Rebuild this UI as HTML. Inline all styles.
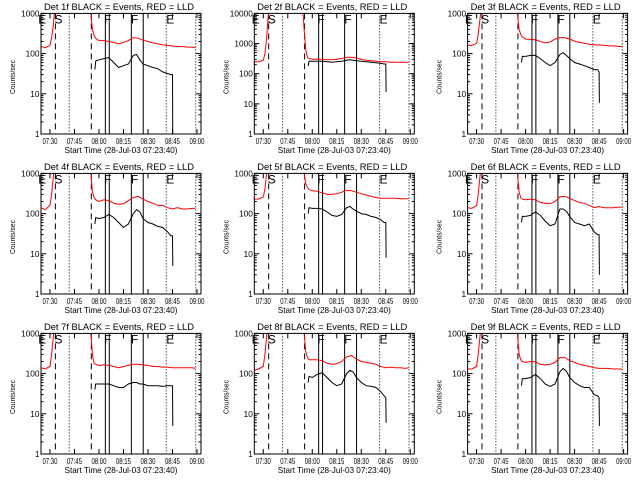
<!DOCTYPE html>
<html><head><meta charset="utf-8">
<style>
html,body{margin:0;padding:0;background:#fff;}
svg{display:block;font-family:"Liberation Sans",sans-serif;}
</style></head>
<body>
<svg id="chart" width="640" height="480" viewBox="0 0 640 480" xmlns="http://www.w3.org/2000/svg">
<rect x="0" y="0" width="640" height="480" fill="#fff"/>
</svg>
<script>
// shared time samples (minutes after 07:00)
const redTimes = [24.5,27,30,31,32,33,34,54,55,56,57,58,60,63,66,69,72,75,78,81,84,87,90,93,96,99,102,105,108,111,114,117,119];
const blackTimes = [57.5,58,60,63,66,69,72,75,78,81,83,85,87,90,93,96,99,102,104,105,105.2];
const xTickLabels = ["07:30","07:45","08:00","08:15","08:30","08:45","09:00"];
const xTickMinutes = [30,45,60,75,90,105,120];
const detNames = ["1f","2f","3f","4f","5f","6f","7f","8f","9f"];
const yMaxes = [1000,10000,1000,1000,1000,1000,1000,1000,1000];
const dashedLines = [33.3,55.3];
const dottedLines = [41.8,101.2,119.2];
const solidLines = [63.9,66.3,79.8,87.1];
const markerLabels = ["E","S","F","F","E"];
const markerMinutes = [25.3,35.2,65.4,81.8,103.6];

const red1 = [150,140,160,250,500,1500,3000,3000,1000,400,280,240,210,210,200,190,175,190,210,250,240,215,200,185,175,165,160,155,150,150,145,145,140];
const red2 = [250,250,280,450,1500,8000,20000,20000,3000,600,350,320,300,300,300,290,290,300,320,350,350,330,300,280,270,260,250,250,240,240,240,240,240];
const red3 = [160,160,180,300,700,1500,3000,3000,1000,400,300,260,230,225,220,200,185,195,230,250,250,230,205,190,180,170,165,165,160,155,155,150,150];
const red4 = [140,125,160,300,800,2000,3000,3000,1000,350,250,220,200,220,210,180,170,175,210,250,270,230,200,180,160,160,140,130,140,130,130,135,135];
const red5 = [230,230,260,400,1000,3000,5000,5000,1000,550,450,400,370,360,330,300,300,310,340,380,370,340,310,290,270,250,240,240,240,240,235,235,235];
const red6 = [140,135,160,300,800,2000,3000,3000,1000,350,250,230,220,230,220,190,180,175,200,260,270,240,210,190,180,160,140,150,140,140,140,145,145];
const red7 = [140,130,150,300,800,2000,3000,3000,1000,300,180,170,160,165,160,150,140,150,160,170,170,165,160,150,150,145,145,140,140,140,140,140,135];
const red8 = [120,130,150,300,800,2000,3000,3000,1000,350,250,220,220,220,210,180,170,175,200,260,280,230,200,190,180,170,150,140,145,140,140,135,140];
const red9 = [130,130,150,300,800,2000,3000,3000,1000,300,220,200,190,200,195,170,165,170,190,250,250,210,190,170,160,150,140,135,135,135,130,130,130];

const black1 = [40,65,70,75,80,60,45,50,55,90,95,70,55,50,45,42,35,32,30,30,0.5];
const black2 = [180,260,260,260,260,250,240,250,260,280,290,280,270,260,250,240,230,220,210,210,25];
const black3 = [60,85,85,90,90,75,60,50,60,95,105,90,75,60,55,50,45,40,40,35,6];
const black4 = [55,80,75,80,95,80,60,45,55,100,125,110,75,60,55,48,45,35,28,28,5];
const black5 = [100,140,135,135,130,110,90,85,95,140,150,130,115,100,95,85,80,70,60,60,8];
const black6 = [60,85,85,90,110,90,65,50,55,130,130,115,85,60,55,50,55,35,30,30,3];
const black7 = [40,55,55,55,55,50,45,45,55,60,60,55,55,50,50,50,48,50,50,50,5];
const black8 = [60,85,80,95,105,80,60,50,55,100,120,110,80,60,50,48,45,35,28,25,6];
const black9 = [50,75,75,80,95,75,55,48,55,110,135,115,80,60,50,45,45,30,28,25,5];

const redSeries = [red1,red2,red3,red4,red5,red6,red7,red8,red9];
const blackSeries = [black1,black2,black3,black4,black5,black6,black7,black8,black9];

const NS = "http://www.w3.org/2000/svg";
const svg = document.getElementById("chart");
function mk(tag, attrs, parent){
  const e = document.createElementNS(NS, tag);
  for (const k in attrs) e.setAttribute(k, attrs[k]);
  parent.appendChild(e);
  return e;
}
const defs = mk("defs", {}, svg);

for (let p = 0; p < 9; p++) {
  const col = p % 3, row = Math.floor(p / 3);
  const ox = col * 213.3, oy = row * 160;
  const L = ox + 41, R = ox + 201, T = oy + 13.4, B = oy + 134;
  const yMax = yMaxes[p];
  const decades = Math.log10(yMax);
  const xs = m => L + (m - 24.5) * (24.5 / 15);
  const ys = v => B - Math.log10(v) / decades * (B - T);

  const g = mk("g", {}, svg);
  
  

  const cp = mk("clipPath", {id: "clip" + p}, defs);
  mk("rect", {x: L, y: T, width: R - L, height: B - T}, cp);

  const title = mk("text", {x: ox + 119, y: oy + 10, "text-anchor": "middle", "font-size": "9", textLength: "150", lengthAdjust: "spacingAndGlyphs"}, g);
  title.textContent = "Det " + detNames[p] + " BLACK = Events, RED = LLD";
  
  

  dashedLines.forEach(m => {
    const l = mk("line", {x1: xs(m), x2: xs(m), y1: T, y2: B, stroke: "#000", "stroke-width": 1, "stroke-dasharray": "6,4"}, g);
    
    
  });
  dottedLines.forEach(m => {
    const l = mk("line", {x1: xs(m), x2: xs(m), y1: T, y2: B, stroke: "#000", "stroke-width": 1, "stroke-dasharray": "1,2"}, g);
    
    
  });
  solidLines.forEach(m => {
    const l = mk("line", {x1: xs(m), x2: xs(m), y1: T, y2: B, stroke: "#000", "stroke-width": 1}, g);
    
    
  });
  markerLabels.forEach((s, i) => {
    const t = mk("text", {x: xs(markerMinutes[i]), y: T + 10, "text-anchor": "middle", "font-size": "12"}, g);
    t.textContent = s;
    
    
  });

  const rs = redSeries[p];
  const rpts = redTimes.map((m, i) => xs(m).toFixed(1) + "," + ys(rs[i]).toFixed(1)).join(" ");
  const rl = mk("polyline", {points: rpts, fill: "none", stroke: "#ff0000", "stroke-width": 1, "clip-path": "url(#clip" + p + ")"}, g);
  
  

  const bs = blackSeries[p];
  const bpts = blackTimes.map((m, i) => xs(m).toFixed(1) + "," + ys(bs[i]).toFixed(1)).join(" ");
  const bl = mk("polyline", {points: bpts, fill: "none", stroke: "#000", "stroke-width": 1, "clip-path": "url(#clip" + p + ")"}, g);
  
  

  const box = mk("rect", {x: L, y: T, width: R - L, height: B - T, fill: "none", stroke: "#000", "stroke-width": 1}, g);
  
  

  for (let d = 0; d <= decades; d++) {
    const v = Math.pow(10, d);
    const y = ys(v);
    mk("line", {x1: L, x2: L + 5, y1: y, y2: y, stroke: "#000"}, g);
    mk("line", {x1: R, x2: R - 5, y1: y, y2: y, stroke: "#000"}, g);
    const t = mk("text", {x: L - 1.5, y: y + 3, "text-anchor": "end", "font-size": "8", textLength: String(String(v).length * 4.6), lengthAdjust: "spacingAndGlyphs"}, g);
    t.textContent = String(v);
    
    
    if (d < decades) {
      for (let k = 2; k <= 9; k++) {
        const yy = ys(v * k);
        mk("line", {x1: L, x2: L + 2.5, y1: yy, y2: yy, stroke: "#000"}, g);
        mk("line", {x1: R, x2: R - 2.5, y1: yy, y2: yy, stroke: "#000"}, g);
      }
    }
  }
  xTickMinutes.forEach((m, i) => {
    const x = xs(m);
    if (x > R + 0.5) return;
    mk("line", {x1: x, x2: x, y1: B, y2: B - 5, stroke: "#000"}, g);
    mk("line", {x1: x, x2: x, y1: T, y2: T + 5, stroke: "#000"}, g);
    const t = mk("text", {x: x, y: B + 10, "text-anchor": "middle", "font-size": "8", textLength: "15", lengthAdjust: "spacingAndGlyphs"}, g);
    t.textContent = xTickLabels[i];
    
    
  });
  const xt = mk("text", {x: ox + 121, y: oy + 153, "text-anchor": "middle", "font-size": "8.5", textLength: "113", lengthAdjust: "spacingAndGlyphs"}, g);
  xt.textContent = "Start Time (28-Jul-03 07:23:40)";
  
  
  const yt = mk("text", {x: 0, y: 0, "text-anchor": "middle", "font-size": "7", textLength: "34", lengthAdjust: "spacingAndGlyphs", transform: "translate(" + (ox + 15) + "," + (oy + 77) + ") rotate(-90)"}, g);
  yt.textContent = "Counts/sec";
  
  
}
</script>
</body></html>
